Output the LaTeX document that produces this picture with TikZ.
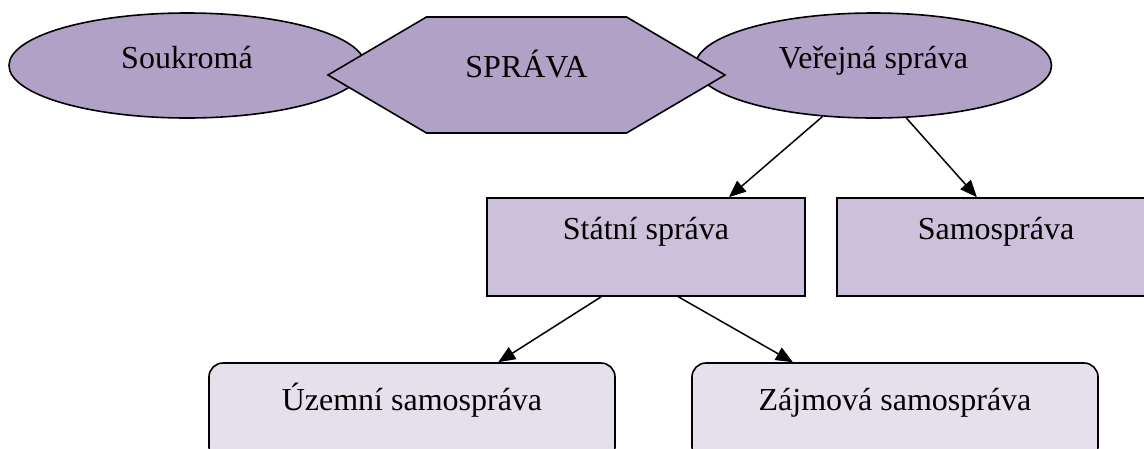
\documentclass[tikz,border=0pt]{standalone}
\usepackage{fontspec}
\setmainfont{Liberation Serif}
\usepackage{tikz}
\usetikzlibrary{shapes,shapes.symbols,arrows.meta}

\definecolor{fialova}{HTML}{B2A1C7}
\definecolor{fialovaB}{HTML}{CCC0DA}
\definecolor{fialovaC}{HTML}{E5E0EC}

\begin{document}
\begin{tikzpicture}[x=1pt,y=-1pt]
          \useasboundingbox (0,0) rectangle (1144,448);

          \tikzstyle{every node}=[font=\fontsize{32}{38}\selectfont, line width=1.6pt, inner sep=0pt]
          \tikzstyle{ovalsp}=[draw, ellipse, fill=fialova, minimum width=356pt, minimum height=105pt, text height=22pt, text depth=17pt]
          \tikzstyle{hexsp}=[draw, signal, signal to=west and east, signal pointer angle=61, fill=fialova, minimum width=397pt, minimum height=116pt, text height=22pt, text depth=18pt]
          \tikzstyle{bloksp}=[draw, rectangle, fill=fialovaB, minimum width=318pt, minimum height=98pt, text height=22pt, text depth=38pt]
          \tikzstyle{kulsp}=[draw, rectangle, rounded corners=14pt, fill=fialovaC, minimum width=406pt, minimum height=98pt, text height=22pt, text depth=26pt]
          \tikzstyle{sipka}=[-{Triangle[length=17pt,width=14pt]}, line width=1.5pt]

          % horni rada
          \node[ovalsp] (SOUK) at (187,65.5) {Soukromá};
          \node[ovalsp] (VER) at (873.5,65.5) {Veřejná správa};
          \node[hexsp] (SPR) at (526.5,75) {SPRÁVA};

          % druha rada
          \node[bloksp] (STAT) at (646,247) {Státní správa};
          \node[bloksp] (SAMO) at (996,247) {Samospráva};

          % treti rada
          \node[kulsp] (UZ) at (412,412) {Územní samospráva};
          \node[kulsp] (ZAJ) at (895,412) {Zájmová samospráva};

          \draw[sipka] (VER.225) -- (STAT.31);
          \draw[sipka] (VER.302) -- (SAMO.111);
          \draw[sipka] (STAT.228) -- (UZ.30);
          \draw[sipka] (STAT.303) -- (ZAJ.154);

\end{tikzpicture}
\end{document}
